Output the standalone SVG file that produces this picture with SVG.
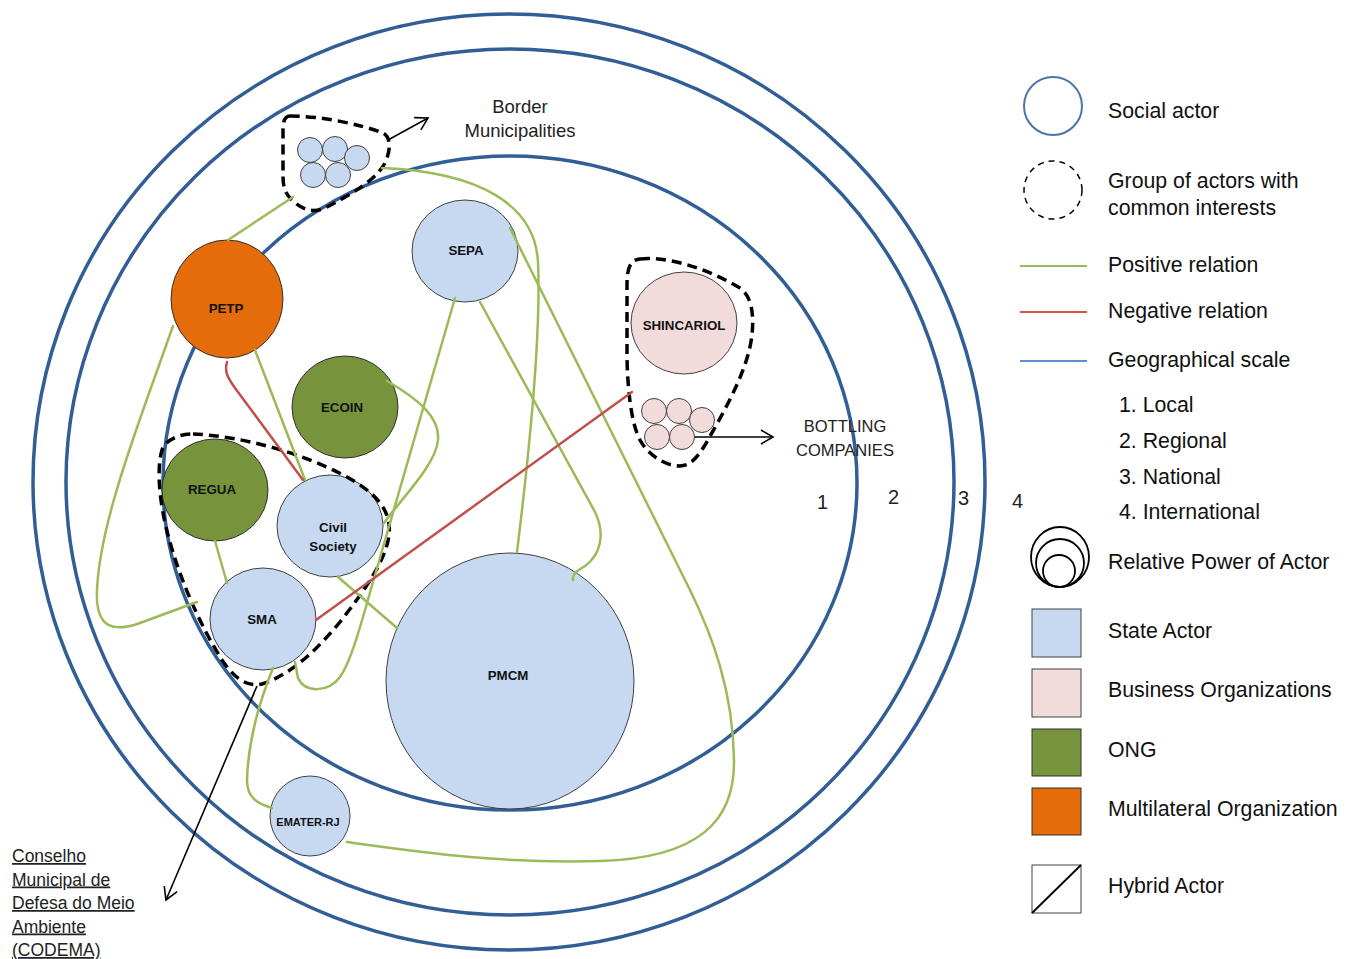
<svg xmlns="http://www.w3.org/2000/svg" width="1350" height="959" viewBox="0 0 1350 959">
<defs>
<style>
.ring{fill:none;stroke:#325e96;stroke-width:3.5}
.pos{fill:none;stroke:#9bbb59;stroke-width:2.5;stroke-linecap:round}
.neg{fill:none;stroke:#c0504d;stroke-width:2.5;stroke-linecap:round}
.arr{fill:none;stroke:#000;stroke-width:1.6}
.grp{fill:none;stroke:#000;stroke-width:3.5;stroke-dasharray:10 6}
.state{fill:#c6d9f1;stroke:#404040;stroke-width:1}
.biz{fill:#f2dcdb;stroke:#404040;stroke-width:1}
.ong{fill:#77933c;stroke:#303030;stroke-width:1}
.multi{fill:#e46c0a;stroke:#303030;stroke-width:1}
.nl{font-family:"Liberation Sans",Arial,sans-serif;font-weight:bold;font-size:13.3px;fill:#111;text-anchor:middle}
.nls{font-family:"Liberation Sans",Arial,sans-serif;font-weight:bold;font-size:11px;fill:#111;text-anchor:middle}
.lbl{font-family:"Liberation Sans",Arial,sans-serif;fill:#222}
.leg{font-family:"Liberation Sans",Arial,sans-serif;font-size:21.3px;fill:#111}
</style>
<marker id="open" markerWidth="16" markerHeight="16" refX="14" refY="8" orient="auto" markerUnits="userSpaceOnUse">
<path d="M2,1 L14,8 L2,15" fill="none" stroke="#000" stroke-width="1.6"/>
</marker>
</defs>
<rect width="1350" height="959" fill="#fff"/>
<g id="scales">
<ellipse class="ring" cx="509" cy="482" rx="476" ry="468"/>
<ellipse class="ring" cx="510" cy="482" rx="444" ry="433"/>
<ellipse class="ring" cx="510" cy="483" rx="347" ry="327"/>
<text class="lbl" x="817" y="509" font-size="20">1</text>
<text class="lbl" x="888" y="504" font-size="20">2</text>
<text class="lbl" x="958" y="505" font-size="20">3</text>
<text class="lbl" x="1012" y="508" font-size="20">4</text>
</g>
<g id="node-PMCM"><ellipse class="state" cx="510" cy="681" rx="124" ry="128"/><text class="nl" x="508" y="680">PMCM</text></g>
<g id="node-SEPA"><ellipse class="state" cx="465" cy="251" rx="53" ry="51"/><text class="nl" x="466" y="255">SEPA</text></g>
<g id="node-SHINCARIOL"><ellipse class="biz" cx="684" cy="323" rx="53" ry="51"/><text class="nl" x="684" y="330">SHINCARIOL</text></g>
<g id="node-PETP"><ellipse class="multi" cx="227" cy="299" rx="56" ry="59"/><text class="nl" x="226" y="313">PETP</text></g>
<g id="node-ECOIN"><ellipse class="ong" cx="345" cy="407" rx="53" ry="51"/><text class="nl" x="342" y="412">ECOIN</text></g>
<g id="node-REGUA"><ellipse class="ong" cx="215" cy="490" rx="53" ry="51"/><text class="nl" x="212" y="494">REGUA</text></g>
<g id="node-CivilSociety"><ellipse class="state" cx="330" cy="526" rx="53" ry="51"/><text class="nl" x="333" y="532">Civil</text><text class="nl" x="333" y="551">Society</text></g>
<g id="node-SMA"><ellipse class="state" cx="263" cy="619" rx="53" ry="51"/><text class="nl" x="262" y="624">SMA</text></g>
<g id="node-EMATER"><ellipse class="state" cx="310" cy="816" rx="40" ry="40"/><text class="nls" x="308" y="826">EMATER-RJ</text></g>
<g id="node-BorderMunicipalities">
<circle class="state" cx="310" cy="150" r="12.5"/><circle class="state" cx="335" cy="149" r="12.5"/><circle class="state" cx="357" cy="158" r="12.5"/><circle class="state" cx="313" cy="175" r="12.5"/><circle class="state" cx="338" cy="175" r="12.5"/>
<path class="grp" d="M290,116 C320,116 360,124 383,133 C391,137 391,150 385,163 C376,180 352,194 325,208 C311,214 300,208 292,200 C284,193 283,185 283,175 L283,130 C283,121 285,116 290,116 Z"/>
<text class="lbl" x="520" y="113" font-size="18.5" text-anchor="middle">Border</text>
<text class="lbl" x="520" y="137" font-size="18.5" text-anchor="middle">Municipalities</text>
</g>
<g id="node-BottlingCompanies">
<circle class="biz" cx="654" cy="411" r="12.5"/><circle class="biz" cx="679" cy="411" r="12.5"/><circle class="biz" cx="702" cy="420" r="12.5"/><circle class="biz" cx="657" cy="437" r="12.5"/><circle class="biz" cx="682" cy="437" r="12.5"/>
<path class="grp" d="M640,259 C670,256 710,270 740,288 C752,296 754,315 752,335 C748,370 725,410 705,445 C697,458 690,466 680,466 C665,466 648,455 640,440 C632,425 628,395 627,360 L627,285 C627,268 630,260 640,259 Z"/>
<text class="lbl" x="845" y="432" font-size="16.5" text-anchor="middle">BOTTLING</text>
<text class="lbl" x="845" y="456" font-size="16.5" text-anchor="middle">COMPANIES</text>
</g>
<g id="node-CODEMA">
<path class="grp" d="M193,434 C240,436 300,452 345,476 C375,492 392,510 389,535 C386,560 365,590 340,622 C315,652 290,675 262,684 C245,688 232,675 222,660 C200,625 180,580 168,535 C160,505 156,470 162,450 C166,440 178,434 193,434 Z"/>
<g class="lbl" font-size="17.5" text-decoration="underline">
<text x="12" y="862">Conselho</text>
<text x="12" y="885.5">Municipal de</text>
<text x="12" y="909">Defesa do Meio</text>
<text x="12" y="932.5">Ambiente</text>
<text x="12" y="956">(CODEMA)</text>
</g>
</g>
<g id="connectors">
<path class="pos" d="M228,240 L293,197"/>
<path class="pos" d="M382,168 C480,172 535,205 538,262 C541,330 532,430 517,552"/>
<path class="pos" d="M510,228 L690,590 C712,635 733,690 734,760 C735,820 700,858 600,861 C500,864 420,852 347,842"/>
<path class="pos" d="M455,298 L375,575 C362,620 352,660 340,677 C328,693 305,693 298,678 L295,662"/>
<path class="pos" d="M387,381 C420,400 440,418 438,440 C436,465 400,500 384,523"/>
<path class="pos" d="M255,350 L305,480"/>
<path class="pos" d="M173,326 C140,420 100,520 97,590 C95,630 115,632 140,623 L197,602"/>
<path class="pos" d="M215,541 L227,583"/>
<path class="pos" d="M338,577 L397,628"/>
<path class="pos" d="M273,668 C258,705 248,745 247,780 C247,798 258,804 272,808"/>
<path class="pos" d="M480,302 L595,512 C606,535 600,555 585,566 C575,572 572,575 573,580"/>
<path class="neg" d="M227,362 C224,372 228,378 235,388 L303,480"/>
<path class="neg" d="M316,620 L632,392"/>
<path class="arr" d="M388,140 L428,118" marker-end="url(#open)"/>
<path class="arr" d="M695,437 L773,437" marker-end="url(#open)"/>
<path class="arr" d="M257,686 L166,900" marker-end="url(#open)"/>
</g>
<g id="legend">
<circle cx="1053" cy="106" r="29" fill="none" stroke="#4a74a8" stroke-width="2"/>
<text class="leg" x="1108" y="118">Social actor</text>
<circle cx="1053" cy="190" r="29" fill="none" stroke="#000" stroke-width="1.5" stroke-dasharray="6 5"/>
<text class="leg" x="1108" y="188">Group of actors with</text>
<text class="leg" x="1108" y="215">common interests</text>
<line x1="1020" y1="266" x2="1087" y2="266" stroke="#9bbb59" stroke-width="2"/>
<text class="leg" x="1108" y="272">Positive relation</text>
<line x1="1020" y1="312" x2="1087" y2="312" stroke="#d9534f" stroke-width="2"/>
<text class="leg" x="1108" y="318">Negative relation</text>
<line x1="1020" y1="361" x2="1087" y2="361" stroke="#5b8fd0" stroke-width="2"/>
<text class="leg" x="1108" y="367">Geographical scale</text>
<text class="leg" x="1119" y="412">1. Local</text>
<text class="leg" x="1119" y="448">2. Regional</text>
<text class="leg" x="1119" y="484">3. National</text>
<text class="leg" x="1119" y="519">4. International</text>
<ellipse cx="1060" cy="557" rx="29" ry="30" fill="none" stroke="#000" stroke-width="1.8"/>
<circle cx="1060" cy="563" r="24" fill="none" stroke="#000" stroke-width="1.8"/>
<circle cx="1059" cy="571" r="16" fill="none" stroke="#000" stroke-width="1.8"/>
<text class="leg" x="1108" y="569">Relative Power of Actor</text>
<rect class="state" x="1032" y="609" width="49" height="48"/>
<text class="leg" x="1108" y="638">State Actor</text>
<rect class="biz" x="1032" y="669" width="49" height="48"/>
<text class="leg" x="1108" y="697">Business Organizations</text>
<rect class="ong" x="1032" y="729" width="49" height="47"/>
<text class="leg" x="1108" y="757">ONG</text>
<rect class="multi" x="1032" y="788" width="49" height="47"/>
<text class="leg" x="1108" y="816">Multilateral Organization</text>
<rect x="1032" y="865" width="49" height="48" fill="#fff" stroke="#404040" stroke-width="1"/>
<line x1="1032" y1="913" x2="1081" y2="865" stroke="#000" stroke-width="1.8"/>
<text class="leg" x="1108" y="893">Hybrid Actor</text>
</g>
</svg>
